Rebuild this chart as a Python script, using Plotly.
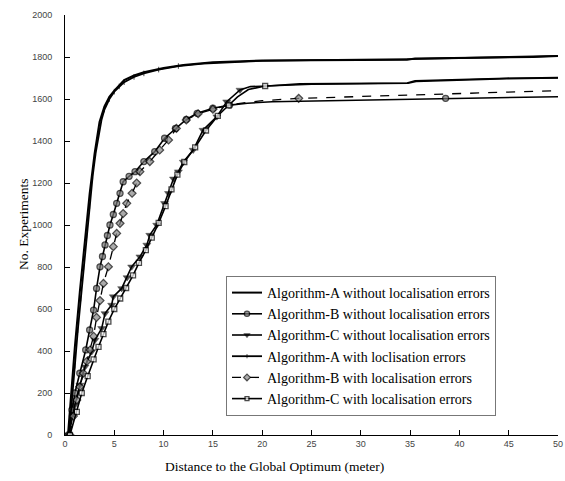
import plotly.graph_objects as go

# ---- data ----
a0_x = [0.3, 0.6, 1.0, 1.5, 2.0, 2.5, 3.0, 3.5, 4.0, 4.5, 5.0, 6.0, 7.0, 8.0, 10.0, 12.0, 15.0, 20.0, 34.7, 35.5, 47.5, 50]
a0_y = [0, 200, 420, 680, 930, 1150, 1340, 1490, 1565, 1610, 1640, 1690, 1712, 1728, 1748, 1762, 1775, 1783, 1787, 1793, 1800, 1805]

b0_x = [0.33, 0.7, 1.0, 1.5, 2.1, 2.5, 2.9, 3.2, 3.55, 3.8, 4.06, 4.3, 4.56, 4.9, 5.24, 5.58, 5.9, 6.5, 7.1, 8.0, 9.1, 10.1, 11.2, 12.3, 13.4, 15.0, 16.7, 18.5, 21, 30, 38.6, 50]
b0_y = [0, 120, 200, 294, 405, 500, 595, 698, 801, 850, 905, 950, 1000, 1050, 1103, 1151, 1206, 1232, 1254, 1302, 1349, 1413, 1460, 1503, 1532, 1556, 1571, 1580, 1587, 1595, 1603, 1611]

c0_x = [0.4, 1.0, 1.52, 2.03, 2.7, 3.04, 3.72, 4.06, 4.73, 4.9, 5.75, 6.3, 6.76, 7.6, 8.3, 8.6, 9.3, 10.1, 10.5, 11.0, 11.5, 12.0, 13.0, 14.0, 15.4, 16.4, 17.75, 18.8, 20.5, 23.8, 34.7, 35.5, 44.8, 50]
c0_y = [0, 143, 238, 325, 397, 452, 508, 579, 619, 659, 698, 750, 801, 849, 905, 952, 1000, 1103, 1151, 1220, 1254, 1300, 1357, 1452, 1516, 1587, 1643, 1659, 1662, 1672, 1676, 1687, 1699, 1702]

a1_x = [0.4, 0.7, 1.0, 1.3, 1.6, 1.9, 2.2, 2.5, 2.8, 3.1, 3.4, 3.7, 4.0, 4.5, 5.0, 5.5, 6.0, 7.0, 8.0, 9.5, 11.5, 14, 17, 20, 25, 35, 45, 50]
a1_y = [0, 150, 330, 500, 650, 800, 950, 1090, 1230, 1340, 1430, 1500, 1550, 1600, 1635, 1660, 1680, 1705, 1722, 1740, 1757, 1768, 1776, 1782, 1785, 1790, 1800, 1805]

b1_x = [0.5, 0.85, 1.19, 1.5, 1.86, 2.2, 2.54, 2.9, 3.2, 3.55, 3.9, 4.4, 4.9, 5.24, 5.58, 5.9, 6.26, 6.8, 7.27, 7.6, 8.6, 9.6, 10.5, 11.3, 12.3, 13.5, 15.0, 17, 20, 23.7, 30, 40, 50]
b1_y = [0, 90, 167, 230, 294, 350, 405, 470, 560, 640, 722, 801, 897, 960, 1008, 1055, 1103, 1151, 1200, 1254, 1302, 1357, 1405, 1460, 1500, 1530, 1551, 1575, 1592, 1603, 1612, 1627, 1640]

c1_x = [0.5, 1.2, 1.7, 2.3, 2.9, 3.4, 3.9, 4.4, 5.0, 5.6, 6.2, 6.9, 7.5, 8.2, 8.8, 9.5, 10.2, 10.8, 11.4, 12.1, 13.2, 14.3, 15.5, 16.6, 17.5, 18.6, 20.3, 25, 34.8, 35.6, 44.8, 50]
c1_y = [0, 110, 200, 280, 360, 420, 480, 540, 600, 650, 700, 760, 820, 880, 940, 1010, 1090, 1170, 1240, 1300, 1370, 1450, 1520, 1570, 1610, 1645, 1662, 1670, 1675, 1683, 1697, 1700]

names = [
    "Algorithm-A without localisation errors",
    "Algorithm-B without localisation errors",
    "Algorithm-C without localisation errors",
    "Algorithm-A with loclisation errors",
    "Algorithm-B with localisation errors",
    "Algorithm-C with localisation errors",
]

# markers shown on the rising part only, plus a few on plateaus
b0_marked = [38.6]
b1_marked = [23.7]
c1_marked = [20.3]
a1_marked = [11.5]


def sizes(xs, s, limit, extra):
    return [s if (x <= limit or x in extra) else 0 for x in xs]


fig = go.Figure()

fig.add_trace(go.Scatter(x=a0_x, y=a0_y, name=names[0], mode="lines",
                         line=dict(color="black", width=2)))
fig.add_trace(go.Scatter(x=b0_x, y=b0_y, name=names[1], mode="lines+markers",
                         line=dict(color="black", width=1.6),
                         marker=dict(symbol="circle", size=sizes(b0_x, 6, 17, b0_marked),
                                     color="#777777", line=dict(color="black", width=1.3))))
fig.add_trace(go.Scatter(x=c0_x, y=c0_y, name=names[2], mode="lines+markers",
                         line=dict(color="black", width=1.6),
                         marker=dict(symbol="triangle-down", size=sizes(c0_x, 7, 18, []),
                                     color="black", line=dict(color="black", width=0.5))))
fig.add_trace(go.Scatter(x=a1_x, y=a1_y, name=names[3], mode="lines+markers",
                         line=dict(color="black", width=1.8),
                         marker=dict(symbol="line-ns", size=sizes(a1_x, 4, 10, a1_marked),
                                     color="black", line=dict(color="black", width=1))))
fig.add_trace(go.Scatter(x=b1_x, y=b1_y, name=names[4], mode="lines+markers",
                         line=dict(color="black", width=1.3, dash="dash"),
                         marker=dict(symbol="diamond", size=sizes(b1_x, 6, 16, b1_marked),
                                     color="#888888", line=dict(color="black", width=1.3))))
fig.add_trace(go.Scatter(x=c1_x, y=c1_y, name=names[5], mode="lines+markers",
                         line=dict(color="black", width=1.6),
                         marker=dict(symbol="square", size=sizes(c1_x, 5, 17, c1_marked),
                                     color="white", line=dict(color="black", width=1.3))))

tick_font = dict(family="Liberation Sans", size=9, color="#444444")

fig.update_xaxes(range=[0, 50], tickvals=list(range(0, 51, 5)), showline=True,
                 linecolor="black", linewidth=1, ticks="inside", ticklen=5,
                 tickcolor="black", showgrid=False, zeroline=False,
                 tickfont=tick_font, automargin=False)
fig.update_yaxes(range=[0, 2000], tickvals=list(range(0, 2001, 200)), showline=True,
                 linecolor="black", linewidth=1, ticks="inside", ticklen=5,
                 tickcolor="black", showgrid=False, zeroline=False,
                 tickfont=tick_font, ticklabelstandoff=10, automargin=False)

plot_w = 565 - 65 - 7
plot_h = 481 - 15 - 46

fig.update_layout(
    width=565, height=481,
    margin=dict(l=65, r=7, t=15, b=46, autoexpand=False),
    plot_bgcolor="white", paper_bgcolor="white",
    font=dict(family="Liberation Serif", color="black"),
    showlegend=True,
    legend=dict(x=(226 - 65) / plot_w, y=(435 - 276) / plot_h, xanchor="left", yanchor="top",
                bgcolor="white", bordercolor="#777777", borderwidth=1,
                font=dict(family="Liberation Serif", size=14, color="black"),
                itemwidth=30, tracegroupgap=0),
)
fig.add_annotation(text="Distance to the Global Optimum (meter)",
                   x=(274 - 65) / plot_w, y=(435 - 466) / plot_h,
                   xref="paper", yref="paper", showarrow=False,
                   xanchor="center", yanchor="middle",
                   font=dict(family="Liberation Serif", size=13.5, color="black"))
fig.add_annotation(text="No. Experiments", x=(23 - 65) / plot_w, y=(435 - 225) / plot_h,
                   xref="paper", yref="paper", showarrow=False, textangle=-90,
                   xanchor="center", yanchor="middle",
                   font=dict(family="Liberation Serif", size=13.5, color="black"))

fig.write_html("out.html", config={"displayModeBar": False},
               post_script="document.body.style.margin='0';")
